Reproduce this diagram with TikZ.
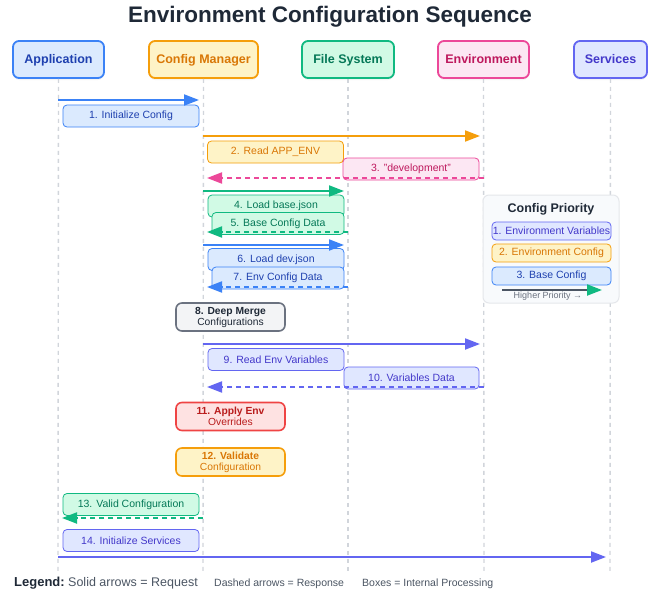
\documentclass[tikz,border=0pt]{standalone}
\usepackage{fontspec}
\setmainfont{Liberation Sans}
\usetikzlibrary{arrows.meta,shadows}
\definecolor{bluM}{HTML}{3B82F6}\definecolor{bluF}{HTML}{DBEAFE}\definecolor{bluT}{HTML}{1E40AF}
\definecolor{oraM}{HTML}{F59E0B}\definecolor{oraF}{HTML}{FEF3C7}\definecolor{oraT}{HTML}{D97706}
\definecolor{grnM}{HTML}{10B981}\definecolor{grnF}{HTML}{D1FAE5}\definecolor{grnT}{HTML}{047857}
\definecolor{pnkM}{HTML}{EC4899}\definecolor{pnkF}{HTML}{FCE7F3}\definecolor{pnkT}{HTML}{BE185D}
\definecolor{indM}{HTML}{6366F1}\definecolor{indF}{HTML}{E0E7FF}\definecolor{indT}{HTML}{4338CA}
\definecolor{gryM}{HTML}{6B7280}\definecolor{gryF}{HTML}{F3F4F6}\definecolor{gryT}{HTML}{1F2937}
\definecolor{redM}{HTML}{EF4444}\definecolor{redF}{HTML}{FEE2E2}\definecolor{redT}{HTML}{B91C1C}
\definecolor{lifeC}{HTML}{D1D5DB}\definecolor{panelF}{HTML}{F8FAFC}\definecolor{panelD}{HTML}{E5E7EB}
\definecolor{txtG}{HTML}{4B5563}
\tikzset{
  part/.style n args={4}{draw=#1, fill=#2, text=#3, minimum width=#4, rounded corners=6pt,
    line width=1.8pt, minimum height=37pt, inner sep=0pt, text depth=1pt,
    font=\fontsize{12.5}{14}\selectfont\bfseries,
    drop shadow={opacity=0.08, shadow xshift=0pt, shadow yshift=-2pt}},
  msgbox/.style n args={4}{draw=#1, fill=#2, text=#3, minimum width=#4, rounded corners=4pt,
    line width=0.8pt, minimum height=22pt, inner sep=0pt, font=\fontsize{10.5}{12}\selectfont},
  proc/.style n args={3}{draw=#1, fill=#2, text=#3, minimum width=109pt, minimum height=28pt,
    rounded corners=6pt, line width=1.6pt, inner sep=0pt, align=center,
    font=\fontsize{10.3}{11}\selectfont},
  prio/.style n args={3}{draw=#1, fill=#2, text=#3, minimum width=119pt, minimum height=18pt,
    rounded corners=4pt, line width=0.8pt, inner sep=0pt, font=\fontsize{10.5}{12}\selectfont},
  life/.style={draw=lifeC, line width=1.4pt, dash pattern=on 4pt off 4pt},
  req/.style={draw=#1, line width=2pt, shorten >=4pt, -{Triangle[length=15pt,width=11pt]}},
  resp/.style={draw=#1, line width=2pt, shorten >=4pt, dash pattern=on 5pt off 4pt,
    -{Triangle[length=15pt,width=11pt]}},
  plain/.style={inner sep=0pt, anchor=west}
}
\begin{document}
\begin{tikzpicture}[x=1pt,y=-1pt]
\useasboundingbox[fill=white] (0,0) rectangle (670,597);
% title
\node[font=\fontsize{22.5}{25}\selectfont\bfseries, text=gryT] (title) at (330,16.5) {Environment Configuration Sequence};
% participants
\node[part={bluM}{bluF}{bluT}{91pt}] (app) at (58.5,59.5) {Application};
\node[part={oraM}{oraF}{oraT}{109pt}] (cm) at (203.5,59.5) {Config Manager};
\node[part={grnM}{grnF}{grnT}{92pt}] (fs) at (348,59.5) {File System};
\node[part={pnkM}{pnkF}{pnkT}{91pt}] (env) at (483.5,59.5) {Environment};
\node[part={indM}{indF}{indT}{73pt}] (svc) at (610.5,59.5) {Services};
% lifelines
\coordinate (appE) at (58,572);
\coordinate (cmE) at (203,572);
\coordinate (fsE) at (348,572);
\coordinate (envE) at (484,572);
\coordinate (svcE) at (610,572);
\draw[life] (app.south) -- (appE);
\draw[life] (cm.south) -- (cmE);
\draw[life] (fs.south) -- (fsE);
\draw[life] (env.south) -- (envE);
\draw[life] (svc.south) -- (svcE);
% priority panel
\node[draw=panelD, fill=panelF, line width=1pt, rounded corners=6pt, minimum width=136pt,
  minimum height=108pt, inner sep=0pt] (panel) at (551,249) {};
\node[font=\fontsize{12.5}{14}\selectfont\bfseries, text=gryT] (ptitle) at (551,209) {Config Priority};
\node[prio={indM}{indF}{indT}] (p1) at (551.5,231) {1. Environment Variables};
\node[prio={oraM}{oraF}{oraT}] (p2) at (551.5,253) {2. Environment Config};
\node[prio={bluM}{bluF}{bluT}] (p3) at (551.5,276) {3. Base Config};
\coordinate (hpS) at (502,290);
\coordinate (hpE) at (602,290);
\draw[draw=txtG, line width=2pt, -{Triangle[length=15pt,width=11pt,color=grnM]}] (hpS) -- (hpE);
\node[font=\fontsize{9}{10}\selectfont, text=gryM] (hp) at (548,296.5) {Higher Priority →};
% message label boxes
\node[msgbox={bluM}{bluF}{bluT}{136pt}] (m1) at (131,116) {1. Initialize Config};
\node[msgbox={oraM}{oraF}{oraT}{136pt}] (m2) at (275.5,152) {2. Read APP\_ENV};
\node[msgbox={pnkM}{pnkF}{pnkT}{136pt}] (m3) at (411,169) {3. "development"};
\node[msgbox={grnM}{grnF}{grnT}{136pt}] (m4) at (276,206) {4. Load base.json};
\node[msgbox={grnM}{grnF}{grnT}{132pt}] (m5) at (278,223.5) {5. Base Config Data};
\node[msgbox={bluM}{bluF}{bluT}{136pt}] (m6) at (276,259.5) {6. Load dev.json};
\node[msgbox={bluM}{bluF}{bluT}{132pt}] (m7) at (278,278) {7. Env Config Data};
\node[msgbox={indM}{indF}{indT}{136pt}] (m9) at (276,359.5) {9. Read Env Variables};
\node[msgbox={indM}{indF}{indT}{135pt}] (m10) at (411.5,378) {10. Variables Data};
\node[msgbox={grnM}{grnF}{grnT}{136pt}] (m13) at (131,504.5) {13. Valid Configuration};
\node[msgbox={indM}{indF}{indT}{136pt}] (m14) at (131,540.5) {14. Initialize Services};
% processing boxes
\node[proc={gryM}{gryF}{gryT}] (p8) at (230.5,317) {\textbf{8. Deep Merge}\\Configurations};
\node[proc={redM}{redF}{redT}] (p11) at (230.5,416.5) {\textbf{11. Apply Env}\\Overrides};
\node[proc={oraM}{oraF}{oraT}] (p12) at (230.5,462) {\textbf{12. Validate}\\Configuration};
% arrow end coordinates
\coordinate (a1s) at (58,100);  \coordinate (a1e) at (203,100);
\coordinate (a2s) at (203,136); \coordinate (a2e) at (484,136);
\coordinate (a3s) at (484,178); \coordinate (a3e) at (203,178);
\coordinate (a4s) at (203,191); \coordinate (a4e) at (348,191);
\coordinate (a5s) at (348,232); \coordinate (a5e) at (203,232);
\coordinate (a6s) at (203,245); \coordinate (a6e) at (348,245);
\coordinate (a7s) at (348,287); \coordinate (a7e) at (203,287);
\coordinate (a9s) at (203,344); \coordinate (a9e) at (484,344);
\coordinate (a10s) at (484,387); \coordinate (a10e) at (203,387);
\coordinate (a13s) at (203,518); \coordinate (a13e) at (58,518);
\coordinate (a14s) at (58,557); \coordinate (a14e) at (610,557);
\draw[req=bluM] (a1s) -- (a1e);
\draw[req=oraM] (a2s) -- (a2e);
\draw[resp=pnkM] (a3s) -- (a3e);
\draw[req=grnM] (a4s) -- (a4e);
\draw[resp=grnM] (a5s) -- (a5e);
\draw[req=bluM] (a6s) -- (a6e);
\draw[resp=bluM] (a7s) -- (a7e);
\draw[req=indM] (a9s) -- (a9e);
\draw[resp=indM] (a10s) -- (a10e);
\draw[resp=grnM] (a13s) -- (a13e);
\draw[req=indM] (a14s) -- (a14e);
% legend
\node[plain, font=\fontsize{13}{15}\selectfont\bfseries, text=gryT] (lg) at (14,583) {Legend:};
\node[plain, font=\fontsize{12.5}{14}\selectfont, text=txtG] (lg1) at (68,583) {Solid arrows = Request};
\node[plain, font=\fontsize{10.5}{12}\selectfont, text=txtG] (lg2) at (214,583.5) {Dashed arrows = Response};
\node[plain, font=\fontsize{10.5}{12}\selectfont, text=txtG] (lg3) at (362,583.5) {Boxes = Internal Processing};
\end{tikzpicture}
\end{document}
